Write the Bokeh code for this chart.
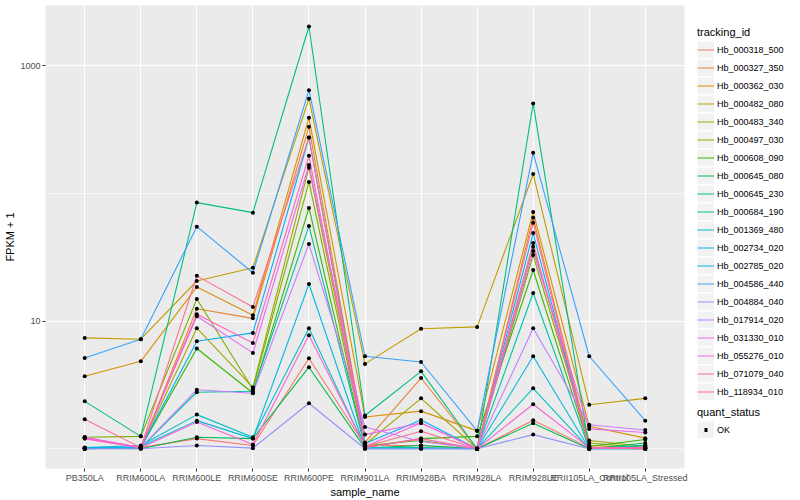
from bokeh.plotting import figure
from bokeh.layouts import row
from bokeh.models import (FactorRange, Range1d, FixedTicker, PrintfTickFormatter,
                          Legend, LegendItem)
from bokeh.embed import file_html
from bokeh.resources import INLINE

samples = ["PB350LA", "RRIM600LA", "RRIM600LE", "RRIM600SE", "RRIM600PE",
           "RRIM901LA", "RRIM928BA", "RRIM928LA", "RRIM928LE",
           "RRII105LA_Control", "RRII105LA_Stressed"]

tracking_ids = ["Hb_000318_500", "Hb_000327_350", "Hb_000362_030", "Hb_000482_080",
                "Hb_000483_340", "Hb_000497_030", "Hb_000608_090", "Hb_000645_080",
                "Hb_000645_230", "Hb_000684_190", "Hb_001369_480", "Hb_002734_020",
                "Hb_002785_020", "Hb_004586_440", "Hb_004884_040", "Hb_017914_020",
                "Hb_031330_010", "Hb_055276_010", "Hb_071079_040", "Hb_118934_010"]

# FPKM + 1 per sample (order of samples)
hb_000318_500 = [1.02, 1.02, 1.20, 1.06, 5.11, 1.06, 1.06, 1.00, 1.67, 1.02, 1.00]
hb_000327_350 = [1.00, 1.01, 12.5, 10.5, 333, 1.12, 3.58, 1.00, 64.6, 1.06, 1.02]
hb_000362_030 = [3.69, 4.84, 18.5, 11.1, 392, 1.77, 1.97, 1.38, 71.6, 1.50, 1.21]
hb_000482_080 = [7.38, 7.21, 20.6, 26.2, 552, 4.62, 8.70, 9.00, 142, 2.21, 2.48]
hb_000483_340 = [1.01, 1.02, 8.80, 3.03, 159, 1.08, 2.48, 1.00, 38.2, 1.16, 1.04]
hb_000497_030 = [1.23, 1.25, 14.9, 2.92, 123, 1.06, 1.16, 1.00, 32.9, 1.11, 1.02]
hb_000608_090 = [1.02, 1.02, 6.10, 2.73, 76.9, 1.02, 1.20, 1.25, 25.1, 1.04, 1.18]
hb_000645_080 = [1.01, 1.00, 1.23, 1.20, 4.35, 1.01, 1.06, 1.00, 1.58, 1.00, 1.11]
hb_000645_230 = [2.35, 1.25, 84.7, 70.7, 2030, 1.82, 4.04, 1.00, 507, 1.00, 1.06]
hb_000684_190 = [1.00, 1.02, 2.77, 2.82, 55.6, 1.02, 1.02, 1.00, 16.6, 1.00, 1.06]
hb_001369_480 = [1.02, 1.06, 1.85, 1.23, 8.80, 1.02, 1.01, 1.00, 2.97, 1.00, 1.00]
hb_002734_020 = [1.00, 1.04, 1.66, 1.20, 19.5, 1.00, 1.00, 1.00, 5.30, 1.00, 1.00]
hb_002785_020 = [1.02, 1.02, 6.95, 8.08, 274, 1.10, 1.68, 1.00, 48.9, 1.02, 1.02]
hb_004586_440 = [5.14, 7.21, 54.9, 23.9, 644, 5.30, 4.78, 1.38, 208, 5.30, 1.66]
hb_004884_040 = [1.00, 1.00, 1.06, 1.01, 2.27, 1.00, 1.00, 1.00, 1.29, 1.00, 1.00]
hb_017914_020 = [1.23, 1.02, 2.90, 2.72, 40.2, 1.48, 1.14, 1.00, 8.80, 1.54, 1.40]
hb_031330_010 = [1.20, 1.02, 10.9, 5.63, 167, 1.29, 1.59, 1.00, 35.4, 1.43, 1.34]
hb_055276_010 = [1.23, 1.02, 1.62, 1.08, 7.75, 1.04, 1.59, 1.00, 2.23, 1.02, 1.00]
hb_071079_040 = [1.20, 1.02, 11.3, 6.74, 197, 1.02, 1.20, 1.00, 40.9, 1.02, 1.02]
hb_118934_010 = [1.70, 1.02, 22.6, 12.9, 274, 1.04, 1.37, 1.00, 59.0, 1.02, 1.00]

series = [hb_000318_500, hb_000327_350, hb_000362_030, hb_000482_080, hb_000483_340,
          hb_000497_030, hb_000608_090, hb_000645_080, hb_000645_230, hb_000684_190,
          hb_001369_480, hb_002734_020, hb_002785_020, hb_004586_440, hb_004884_040,
          hb_017914_020, hb_031330_010, hb_055276_010, hb_071079_040, hb_118934_010]

palette = ["#F8766D", "#EA8331", "#D89000", "#C09B00", "#A3A500", "#7CAE00", "#39B600",
           "#00BB4E", "#00BF7D", "#00C1A3", "#00BFC4", "#00BAE0", "#00B0F6", "#35A2FF",
           "#9590FF", "#C77CFF", "#E76BF3", "#FA62DB", "#FF62BC", "#FF6C91"]

y_ticks = [10, 1000]
y_minor = [1, 100, 10000]

FONT = "Liberation Sans"

p = figure(width=690, height=500,
           x_range=FactorRange(factors=samples, range_padding=0.2, range_padding_units="absolute"),
           y_range=Range1d(0.70, 2964), y_axis_type="log",
           output_backend="svg", toolbar_location=None,
           background_fill_color="#EBEBEB", border_fill_color="white",
           min_border_left=45, min_border_right=6, min_border_top=5, min_border_bottom=0)
p.outline_line_color = None

ticker = FixedTicker(ticks=y_ticks, minor_ticks=y_minor)
p.yaxis.ticker = ticker
p.ygrid.ticker = ticker
p.yaxis.formatter = PrintfTickFormatter(format="%d")

p.xgrid.grid_line_color = "white"
p.xgrid.grid_line_width = 1.1
p.ygrid.grid_line_color = "white"
p.ygrid.grid_line_width = 1.1
p.ygrid.minor_grid_line_color = "white"
p.ygrid.minor_grid_line_width = 0.55

for ax in (p.xaxis, p.yaxis):
    ax.axis_line_color = None
    ax.major_tick_line_color = "#333333"
    ax.major_tick_out = 3
    ax.major_tick_in = 0
    ax.minor_tick_line_color = None
    ax.major_label_text_color = "#4D4D4D"
    ax.major_label_text_font = FONT
    ax.major_label_text_font_size = "9px"
    ax.major_label_standoff = 1
    ax.axis_label_text_font = FONT
    ax.axis_label_text_font_size = "11px"
    ax.axis_label_text_font_style = "normal"
    ax.axis_label_text_color = "black"
    ax.axis_label_standoff = 0
p.yaxis.axis_label_standoff = 1

p.xaxis.axis_label = "sample_name"
p.yaxis.axis_label = "FPKM + 1"

for vals, col in zip(series, palette):
    p.line(samples, vals, line_color=col, line_width=1.1)

xs = [s for vals in series for s in samples]
ys = [v for vals in series for v in vals]
p.scatter(xs, ys, size=4, fill_color="black", line_color=None)

# legend panel (legend key glyphs drawn from off-range dummy renderers)
lf = figure(width=110, height=500, x_range=Range1d(0, 1), y_range=Range1d(0, 1),
            output_backend="svg", toolbar_location=None,
            x_axis_location=None, y_axis_location=None,
            background_fill_color="white", border_fill_color="white",
            min_border_left=0, min_border_right=0, min_border_top=5, min_border_bottom=0)
lf.outline_line_color = None
lf.grid.visible = False

box = lf.line(x=[5, 6], y=[5, 5], line_color="#F2F2F2", line_width=17, line_cap="butt")
key_lines = [lf.line(x=[5, 6], y=[5, 5], line_color=col, line_width=1.0) for col in palette]
key_pt = lf.line(x=[5, 6], y=[5, 5], line_color="black", line_width=4, line_cap="butt",
                 line_dash="0 7 3 100")

legend_style = dict(padding=0, margin=0, spacing=1, glyph_width=17, glyph_height=17,
                    label_height=17, label_standoff=3, label_text_font=FONT,
                    label_text_font_size="9px", label_text_color="black",
                    title_text_font=FONT, title_text_font_size="11px",
                    title_text_font_style="normal", title_text_color="black",
                    title_standoff=3, border_line_color=None, background_fill_alpha=0)

items = [LegendItem(label=tid, renderers=[box, r]) for tid, r in zip(tracking_ids, key_lines)]
leg1 = Legend(items=items, title="tracking_id", location=(7, 68), **legend_style)
leg2 = Legend(items=[LegendItem(label="OK", renderers=[box, key_pt])], title="quant_status",
              location=(7, 30), **legend_style)
lf.add_layout(leg1)
lf.add_layout(leg2)

layout = row(p, lf)
open("out.html", "w").write(file_html(layout, INLINE))
